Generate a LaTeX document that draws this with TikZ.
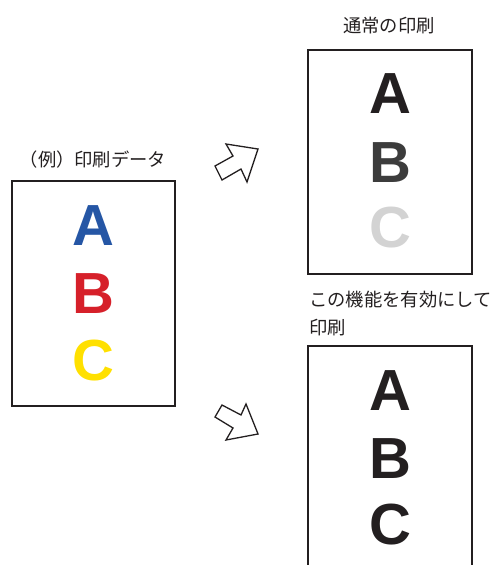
\documentclass[tikz,border=0pt]{standalone}
\usepackage{fontspec}
\setmainfont{Liberation Sans}
\newfontfamily\jpfont{Noto Sans CJK JP}
\definecolor{lblue}{HTML}{2556A5}
\definecolor{lred}{HTML}{D6202A}
\definecolor{lyellow}{HTML}{FFE000}
\definecolor{lblack}{HTML}{231F20}
\definecolor{ldgray}{HTML}{3C3C3C}
\definecolor{llgray}{HTML}{D3D3D3}
\begin{document}
\begin{tikzpicture}[x=1pt,y=-1pt,
  paper/.style={draw=lblack,line width=1.4pt},
  letter/.style={font=\fontsize{58}{58}\selectfont\bfseries,inner sep=0pt},
  jlabel/.style={font=\jpfont\fontsize{18.3}{20}\selectfont,inner sep=0pt,text=lblack},
  fatarrow/.style={draw=lblack,line width=1.3pt,line join=miter,fill=white}]
\useasboundingbox (0,0) rectangle (499,565);
\begin{scope}
\clip (0,0) rectangle (499,565);
% boxes
\draw[paper] (12,181) rectangle (175,406);
\draw[paper] (308,50) rectangle (472,274);
\draw[paper] (308,575) -- (308,346) -- (472,346) -- (472,575);
\end{scope}
% labels
\node[jlabel] (lab1) at (93,160) {（例）印刷データ};
\node[jlabel] (lab2) at (389,26) {通常の印刷};
\node[jlabel,anchor=west] (lab3) at (309,300) {この機能を有効にして};
\node[jlabel,anchor=west] (lab4) at (309,328) {印刷};
% letters left
\node[letter,text=lblue] (la) at (93.5,225.5) {A};
\node[letter,text=lred] (lb) at (93.5,293.5) {B};
\node[letter,text=lyellow] (lc) at (93.5,361) {C};
% letters top right
\node[letter,text=lblack] (ra) at (390,93.5) {A};
\node[letter,text=ldgray] (rb) at (390,162.5) {B};
\node[letter,text=llgray] (rc) at (390,227.5) {C};
% letters bottom right
\node[letter,text=lblack] (sa) at (390,390.5) {A};
\node[letter,text=lblack] (sb) at (390,459) {B};
\node[letter,text=lblack] (sc) at (390,525) {C};
% arrows
\draw[fatarrow] (226,144) -- (258,149) -- (247,182) -- (241,169) -- (222,180) -- (215,166) -- (233,156) -- cycle;
\draw[fatarrow] (222,405) -- (241,415) -- (246,404) -- (258,434) -- (226,440) -- (233,428) -- (215,417) -- cycle;
\end{tikzpicture}
\end{document}
